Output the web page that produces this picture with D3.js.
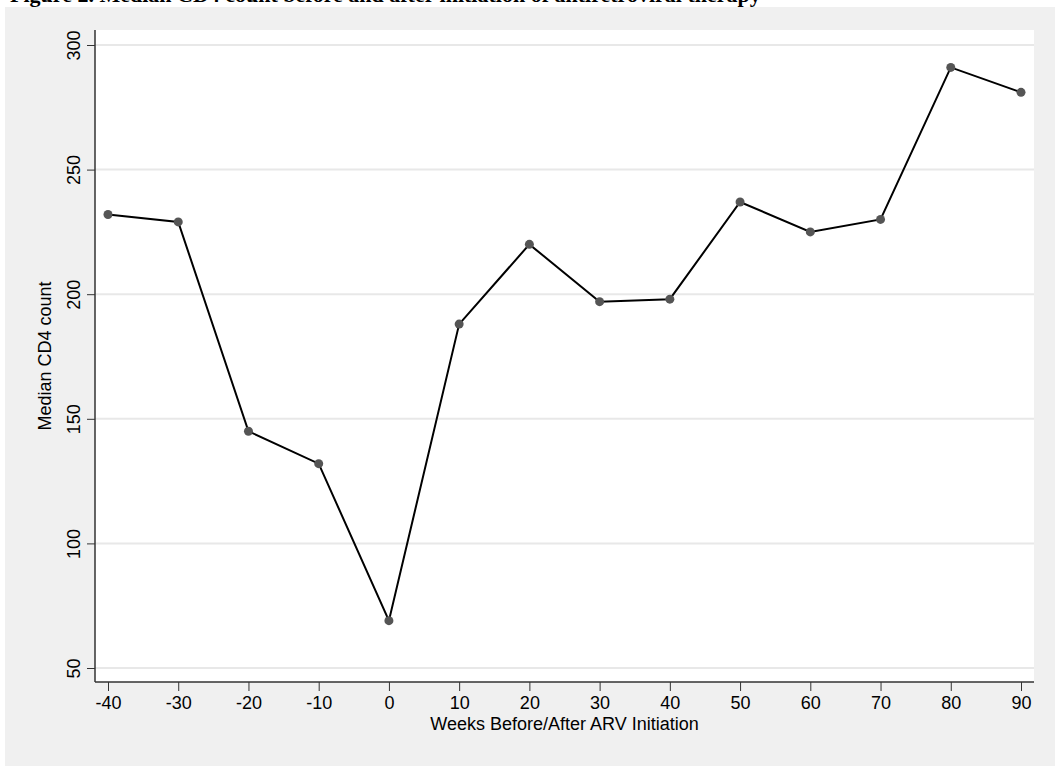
<!DOCTYPE html>
<html><head><meta charset="utf-8">
<script src="https://cdn.jsdelivr.net/npm/d3@7"></script>
<style>body{margin:0;background:#fff}svg{display:block}</style>
</head><body><div id="chart"></div>
<script>
const weeks = [-40, -30, -20, -10, 0, 10, 20, 30, 40, 50, 60, 70, 80, 90]
const medianCd4 = [232, 229, 145, 132, 69, 188, 220, 197, 198, 237, 225, 230, 291, 281]
const yTicks = [50, 100, 150, 200, 250, 300]

const W = 1055, H = 767
const svg = d3.select("#chart").append("svg").attr("width", W).attr("height", H)

// title of the page, mostly cut off above the chart
svg.append("text").attr("x", 10).attr("y", 2)
  .attr("font-family", "Liberation Serif").attr("font-weight", "bold").attr("font-size", 22)
  .text("Figure 2. Median CD4 count before and after initiation of antiretroviral therapy")

svg.append("rect").attr("x", 5).attr("y", 7).attr("width", W - 5).attr("height", H - 8).attr("fill", "#f0f0f0")

const plot = { left: 95, right: 1034, top: 30, bottom: 682 }
svg.append("rect").attr("x", plot.left).attr("y", plot.top)
  .attr("width", plot.right - plot.left).attr("height", plot.bottom - plot.top).attr("fill", "#fff")

const x = d3.scaleLinear().domain([-40, 90]).range([108, 1021])
const y = d3.scaleLinear().domain([50, 300]).range([668, 45])

svg.append("g").selectAll("line").data(yTicks).join("line")
  .attr("x1", plot.left).attr("x2", plot.right)
  .attr("y1", d => y(d)).attr("y2", d => y(d))
  .attr("stroke", "#e8e8e8").attr("stroke-width", 2)

const font = "Liberation Sans, Arial, sans-serif"
const fmt = d => String(d)
const yAxis = svg.append("g").attr("transform", `translate(${plot.left},0)`)
  .call(d3.axisLeft(y).tickValues(yTicks).tickFormat(fmt).tickSize(8))
yAxis.select(".domain").attr("d", `M0,${plot.top}V${plot.bottom}`).attr("stroke", "#333").attr("stroke-width", 1.5)
yAxis.selectAll(".tick line").attr("stroke", "#333")
yAxis.selectAll(".tick text").attr("font-family", font).attr("font-size", 18).attr("fill", "#000")
  .attr("x", 0).attr("dy", 0).attr("text-anchor", "middle")
  .attr("transform", "translate(-15,0) rotate(-90)")

const xAxis = svg.append("g").attr("transform", `translate(0,${plot.bottom})`)
  .call(d3.axisBottom(x).tickValues(weeks).tickFormat(fmt).tickSize(9).tickPadding(5))
xAxis.select(".domain").attr("d", `M${plot.left},0H${plot.right}`).attr("stroke", "#333").attr("stroke-width", 1.5)
xAxis.selectAll(".tick line").attr("stroke", "#333")
xAxis.selectAll(".tick text").attr("font-family", font).attr("font-size", 18).attr("fill", "#000")

svg.append("text").attr("x", x(25)).attr("y", 730).attr("text-anchor", "middle")
  .attr("font-family", font).attr("font-size", 18).text("Weeks Before/After ARV Initiation")
svg.append("text").attr("transform", `translate(51,${(plot.top + plot.bottom) / 2}) rotate(-90)`)
  .attr("text-anchor", "middle").attr("font-family", font).attr("font-size", 18).text("Median CD4 count")

const pts = weeks.map((w, i) => [w, medianCd4[i]])
svg.append("path").datum(pts)
  .attr("d", d3.line().x(d => x(d[0])).y(d => y(d[1])))
  .attr("fill", "none").attr("stroke", "#000").attr("stroke-width", 2)
svg.append("g").selectAll("circle").data(pts).join("circle")
  .attr("cx", d => x(d[0])).attr("cy", d => y(d[1])).attr("r", 4.5).attr("fill", "#555")
</script></body></html>
